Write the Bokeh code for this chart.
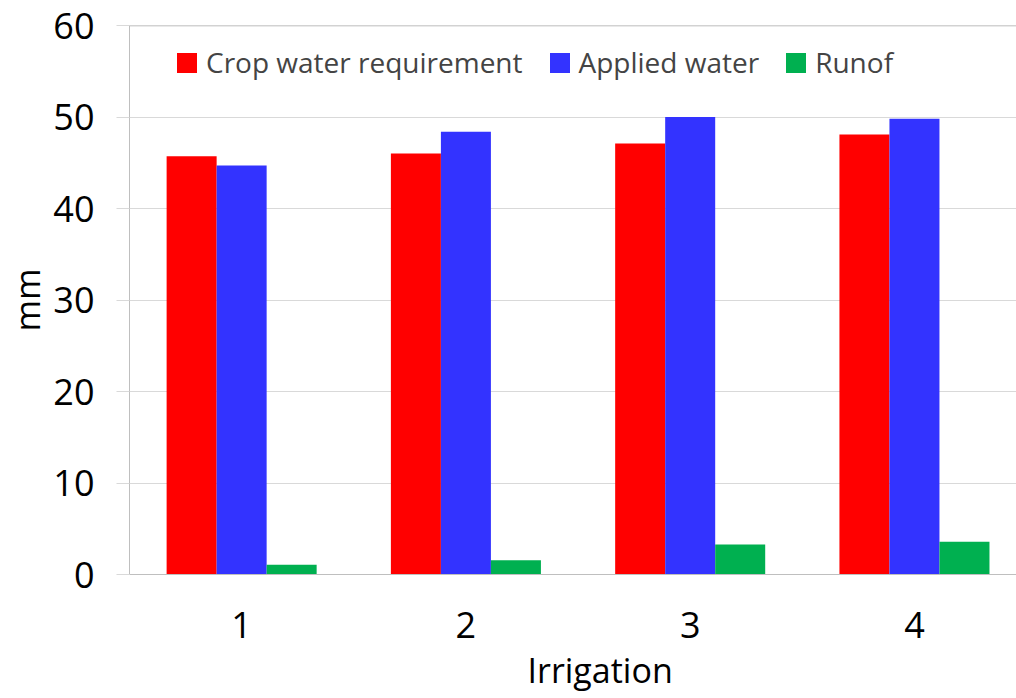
from bokeh.plotting import figure
from bokeh.models import ColumnDataSource, Range1d, FixedTicker, Legend, LegendItem, Span, Title
from bokeh.transform import dodge
from bokeh.embed import file_html
from bokeh.resources import INLINE

irrigation = [1, 2, 3, 4]
tick_labels = ["1", "2", "3", "4"]
crop_water_requirement = [45.7, 46.0, 47.1, 48.1]
applied_water = [44.7, 48.4, 50.0, 49.8]
runoff = [1.06, 1.57, 3.28, 3.57]
series_names = ["Crop water requirement", "Applied water", "Runof"]
series_colors = ["#FF0000", "#3333FF", "#00B050"]
y_ticks = [0, 10, 20, 30, 40, 50, 60]
x_title = "Irrigation"
y_title = "mm"

FONT = "Open Sans"

source = ColumnDataSource(dict(x=irrigation, crop=crop_water_requirement,
                               applied=applied_water, runoff=runoff))

p = figure(width=1016, height=698, output_backend="svg", toolbar_location=None,
           x_range=Range1d(0.5, 4.455), y_range=Range1d(0, 60),
           min_border_left=129, min_border_right=0, min_border_top=25,
           min_border_bottom=124)
p.outline_line_color = None
p.background_fill_color = "white"
p.border_fill_color = "white"

bw = 0.223
r1 = p.vbar(x=dodge("x", -bw, range=p.x_range), top="crop", width=bw, source=source,
            fill_color=series_colors[0], line_color=None)
r2 = p.vbar(x=dodge("x", 0, range=p.x_range), top="applied", width=bw, source=source,
            fill_color=series_colors[1], line_color=None)
r3 = p.vbar(x=dodge("x", bw, range=p.x_range), top="runoff", width=bw, source=source,
            fill_color=series_colors[2], line_color=None)

# top border line of plot area
p.add_layout(Span(location=60, dimension="width", line_color="#A6A6A6", line_width=1.5))

p.xgrid.visible = False
p.ygrid.grid_line_color = "#D9D9D9"
p.ygrid.grid_line_width = 1

p.xaxis.ticker = FixedTicker(ticks=irrigation)
p.xaxis.major_label_overrides = {i: t for i, t in zip(irrigation, tick_labels)}
p.yaxis.ticker = FixedTicker(ticks=y_ticks)

for ax in (p.xaxis, p.yaxis):
    ax.axis_line_color = "#BFBFBF"
    ax.axis_line_width = 1
    ax.major_label_text_font = FONT
    ax.major_label_text_font_size = "36px"
    ax.major_label_text_color = "black"
    ax.axis_label_text_font = FONT
    ax.axis_label_text_font_size = "34px"
    ax.axis_label_text_font_style = "normal"
    ax.axis_label_text_color = "black"
    ax.minor_tick_line_color = None

p.xaxis.major_tick_line_color = None
p.xaxis.major_label_standoff = 31

p.yaxis.major_tick_line_color = "#D9D9D9"
p.yaxis.major_tick_out = 13
p.yaxis.major_tick_in = 0
p.yaxis.major_label_standoff = 22
p.yaxis.axis_label = y_title
p.yaxis.axis_label_standoff = 0

# x axis title (shifted to the right like the reference)
p.add_layout(Title(text=x_title, align="left", offset=398, standoff=8,
                   text_font=FONT, text_font_size="34px", text_font_style="normal",
                   text_color="black"), "below")

legend = Legend(items=[LegendItem(label=series_names[0], renderers=[r1]),
                       LegendItem(label=series_names[1], renderers=[r2]),
                       LegendItem(label=series_names[2], renderers=[r3])],
                orientation="horizontal", location=(45, 493),
                label_text_font=FONT, label_text_font_size="28px",
                glyph_width=25, glyph_height=25, label_standoff=7,
                spacing=24, padding=5, margin=0,
                background_fill_alpha=0, border_line_color=None)
p.add_layout(legend, "center")

open("out.html", "w").write(file_html(p, INLINE))
